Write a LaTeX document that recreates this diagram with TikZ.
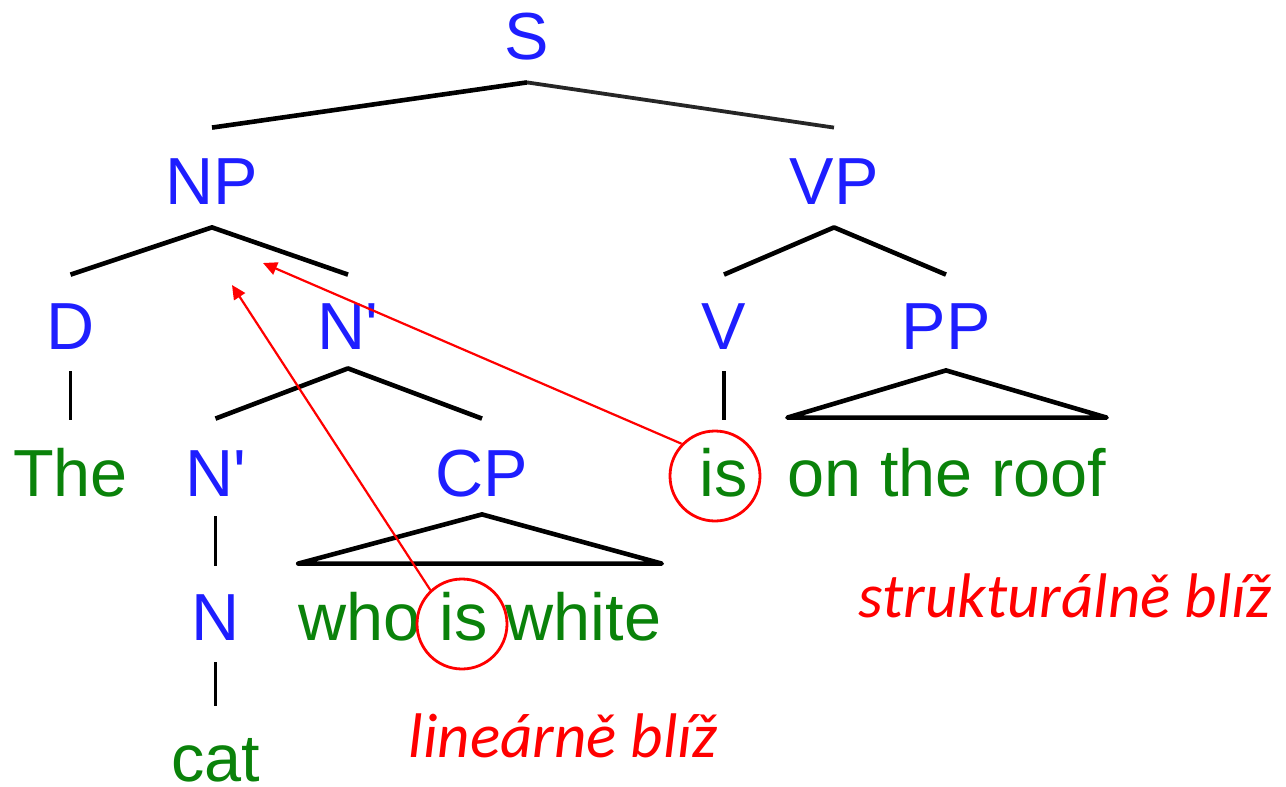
\documentclass[tikz,border=0pt]{standalone}
\usepackage{fontspec}
\setmainfont{Liberation Sans}
\newfontfamily\notefont{Carlito}
\usetikzlibrary{arrows.meta}
\definecolor{catblue}{RGB}{30,30,255}
\definecolor{wordgreen}{RGB}{10,130,10}
\definecolor{markred}{RGB}{255,0,0}

\begin{document}
\begin{tikzpicture}[x=0.5pt,y=-0.5pt,
  lbl/.style={inner sep=0pt, text height=24pt, text depth=0pt, anchor=base,
              font=\fontsize{33.3}{40}\selectfont},
  catlbl/.style={lbl, text=catblue},
  wordlbl/.style={lbl, text=wordgreen},
  branch/.style={line width=2.3pt, line join=round, line cap=butt},
  stem/.style={line width=1.8pt},
  ring/.style={circle, draw=markred, line width=1.4pt, minimum size=45pt, inner sep=0pt},
  link/.style={draw=markred, line width=1.1pt, -{Triangle[length=7pt,width=6.5pt]}},
  note/.style={text=markred, anchor=base, inner sep=0pt,
               font=\notefont\itshape\fontsize{31.5}{38}\selectfont}
]
\useasboundingbox (0,0) rectangle (1286,787);

% category labels
\node[catlbl] (S)     at (527,60)  {S};
\node[catlbl] (NP)    at (212,204) {NP};
\node[catlbl] (VP)    at (834,204) {VP};
\node[catlbl] (D)     at (70.5,349) {D};
\node[catlbl] (Nbar1) at (348,349) {N\textquotesingle};
\node[catlbl] (V)     at (724,349) {V};
\node[catlbl] (PP)    at (946,349) {PP};
\node[catlbl] (Nbar2) at (215.5,496) {N\textquotesingle};
\node[catlbl] (CP)    at (482,496) {CP};
\node[catlbl] (N)     at (215.5,640) {N};

% words
\node[wordlbl] (The)  at (70.5,496) {The};
\node[wordlbl] (is2)  at (724,496) {is};
\node[wordlbl] (roof) at (947,496) {on the roof};
\node[wordlbl] (who)  at (480,640) {who is white};
\node[wordlbl] (cat)  at (215.5,781) {cat};

% branches
\draw[branch] ([yshift=14pt]NP.north) -- ([yshift=-11pt]S.south);
\draw[branch, line width=1.9pt, black!85] ([yshift=-11pt]S.south) -- ([yshift=14pt]VP.north);
\draw[branch] ([yshift=13pt]D.north) -- ([yshift=-11.5pt]NP.south) -- ([yshift=13pt]Nbar1.north);
\draw[branch] ([yshift=13pt]V.north) -- ([yshift=-11.5pt]VP.south) -- ([yshift=13pt]PP.north);
\draw[branch] ([yshift=14.5pt]Nbar2.north) -- ([yshift=-9.5pt]Nbar1.south) -- ([yshift=14.5pt]CP.north);
\draw[stem] ([yshift=-11pt]D.south) -- ([yshift=14pt]The.north);
\draw[stem] ([yshift=-11pt]V.south) -- ([yshift=14pt]is2.north);
\draw[stem] ([yshift=-10pt]Nbar2.south) -- ([yshift=13pt]N.north);
\draw[stem] ([yshift=-11pt]N.south) -- ([yshift=13.5pt]cat.north);

% roof triangles
\draw[branch] ([yshift=15pt]roof.north west) -- ([yshift=-10.5pt]PP.south)
  -- ([yshift=15pt]roof.north east) -- cycle;
\draw[branch] ([yshift=14pt]who.north west) -- ([yshift=-9pt]CP.south)
  -- ([yshift=14pt]who.north east) -- cycle;

% marked verbs and their links
\node[ring] (ring1) at (462,624) {};
\node[ring] (ring2) at (715,476) {};
\coordinate (tip1) at (232,285);
\coordinate (tip2) at (263,263);
\draw[link] (ring1.133) -- (tip1);
\draw[link] (ring2.136) -- (tip2);

% notes
\node[note] (lin) at (563,757)  {lineárně blíž};
\node[note] (str) at (1065,617) {strukturálně blíž};
\end{tikzpicture}
\end{document}
